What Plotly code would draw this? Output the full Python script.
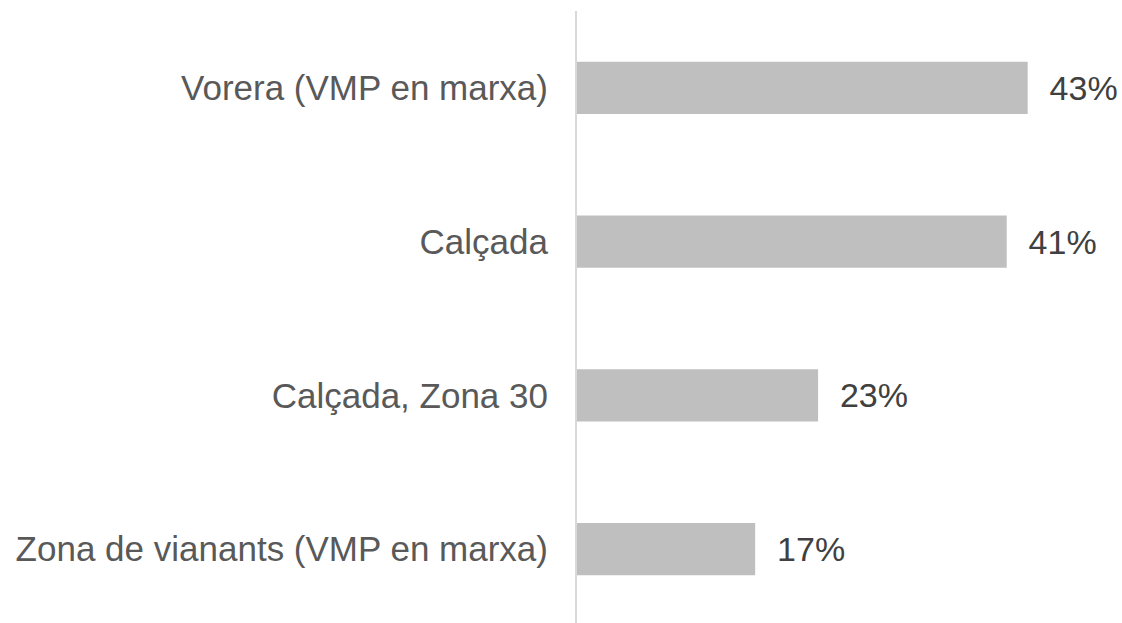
import plotly.graph_objects as go

categories = ["Vorera (VMP en marxa)", "Calçada", "Calçada, Zona 30", "Zona de vianants (VMP en marxa)"]
values = [43, 41, 23, 17]
value_labels = ["43%", "41%", "23%", "17%"]

fig = go.Figure(go.Bar(
    y=categories,
    x=values,
    orientation="h",
    width=0.34,
    marker=dict(color="#BFBFBF", line=dict(width=0)),
    text=value_labels,
    texttemplate="  %{text}",
    textposition="outside",
    constraintext="none",
    cliponaxis=False,
    textfont=dict(family="Liberation Sans, Arial", size=34, color="#404040"),
))

fig.update_layout(
    width=1122, height=623,
    margin=dict(l=577, r=0, t=11, b=0),
    plot_bgcolor="white", paper_bgcolor="white",
    showlegend=False,
    font=dict(family="Liberation Sans, Arial", size=35, color="#595959"),
)
fig.update_xaxes(range=[0, 52], showgrid=False, zeroline=False, showticklabels=False, showline=False)
fig.update_yaxes(
    categoryorder="array", categoryarray=categories,
    range=[3.48, -0.5],
    showgrid=False, zeroline=False,
    showline=True, linecolor="#D9D9D9", linewidth=2,
    ticks="outside", ticklen=20, tickcolor="rgba(0,0,0,0)",
    tickfont=dict(family="Liberation Sans, Arial", size=35, color="#595959"),
    automargin=False,
)

fig.write_html("out.html", config={"displayModeBar": False},
               post_script="document.body.style.margin='0';document.body.style.overflow='hidden';")
